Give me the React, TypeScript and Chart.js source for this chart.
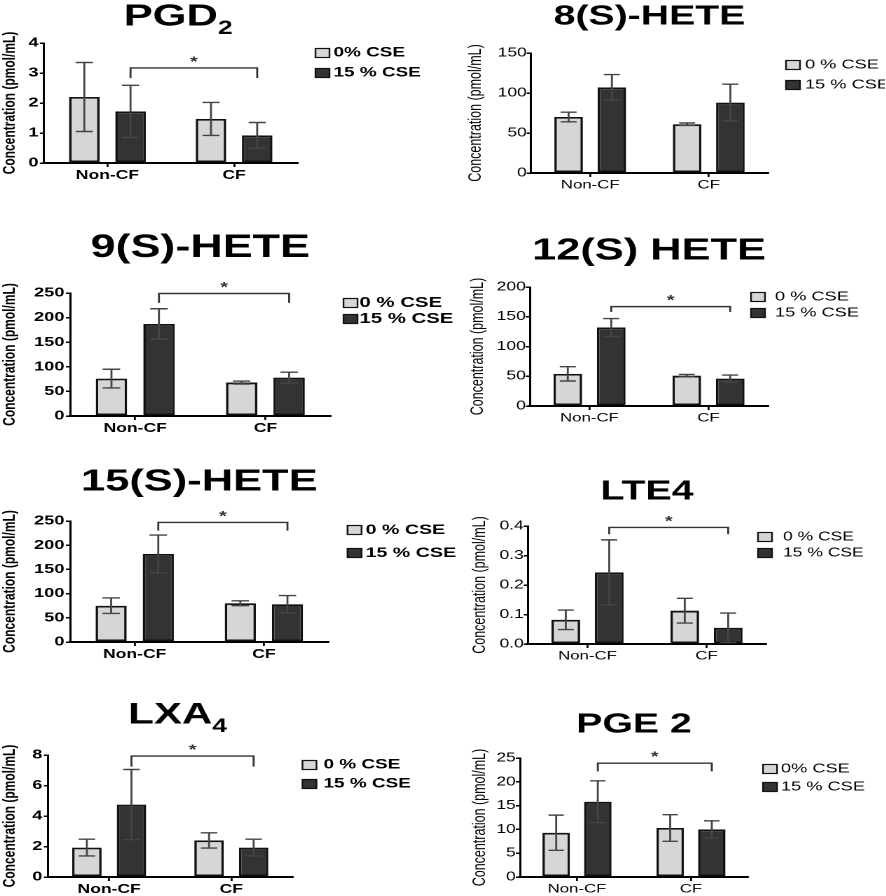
import React, { useEffect, useRef } from "react";
import { Chart, registerables } from "chart.js";

Chart.register(...registerables);

const FONT = "'Liberation Sans', Arial, Helvetica, sans-serif";
const SX = 1.4; // horizontal stretch of the original figure
const XAXIS_H = 24;

// ---------------- data ----------------
const categories = ["Non-CF", "CF"];
const yAxisTitle = "Concentration (pmol/mL)";

const pgd2Mean0 = [2.2, 1.47];
const pgd2Err0 = [1.15, 0.55];
const pgd2Mean15 = [1.72, 0.92];
const pgd2Err15 = [0.87, 0.43];
const pgd2Ticks = [0, 1, 2, 3, 4];
const pgd2Bracket = [3.17, 2.83];
const pgd2Legend = ["0% CSE", "15 % CSE"];

const hete8Mean0 = [70, 61];
const hete8Err0 = [6, 1.5];
const hete8Mean15 = [107, 88];
const hete8Err15 = [16, 23];
const hete8Ticks = [0, 50, 100, 150];
const hete8Legend = ["0 % CSE", "15 % CSE"];

const hete9Mean0 = [76, 68];
const hete9Err0 = [19, 3];
const hete9Mean15 = [187, 78];
const hete9Err15 = [31, 11];
const hete9Ticks = [0, 50, 100, 150, 200, 250];
const hete9Bracket = [249, 230];
const hete9Legend = ["0 % CSE", "15 % CSE"];

const hete12Mean0 = [54, 51];
const hete12Err0 = [12, 2];
const hete12Mean15 = [132, 46];
const hete12Err15 = [15, 6];
const hete12Ticks = [0, 50, 100, 150, 200];
const hete12Bracket = [167, 158];
const hete12Legend = ["0 % CSE", "15 % CSE"];

const hete15Mean0 = [75, 80];
const hete15Err0 = [16, 5];
const hete15Mean15 = [182, 78];
const hete15Err15 = [39, 18];
const hete15Ticks = [0, 50, 100, 150, 200, 250];
const hete15Bracket = [247, 230];
const hete15Legend = ["0 % CSE", "15 % CSE"];

const lte4Mean0 = [0.082, 0.113];
const lte4Err0 = [0.033, 0.042];
const lte4Mean15 = [0.243, 0.055];
const lte4Err15 = [0.11, 0.05];
const lte4Ticks = [0, 0.1, 0.2, 0.3, 0.4];
const lte4Bracket = [0.395, 0.372];
const lte4Legend = ["0 % CSE", "15 % CSE"];

const lxa4Mean0 = [1.93, 2.4];
const lxa4Err0 = [0.55, 0.5];
const lxa4Mean15 = [4.75, 1.93];
const lxa4Err15 = [2.3, 0.55];
const lxa4Ticks = [0, 2, 4, 6, 8];
const lxa4Bracket = [7.93, 7.24];
const lxa4Legend = ["0 % CSE", "15 % CSE"];

const pge2Mean0 = [9.3, 10.3];
const pge2Err0 = [3.7, 2.8];
const pge2Mean15 = [15.8, 10];
const pge2Err15 = [4.4, 1.8];
const pge2Ticks = [0, 5, 10, 15, 20, 25];
const pge2Bracket = [23.9, 22.2];
const pge2Legend = ["0% CSE", "15 % CSE"];

// ---------------- panels (data refs + layout) ----------------
type Box = {
  x0: number; w: number;
  plotLeft: number; plotRight: number; plotTop: number; plotBottom: number;
  titleCY: number; yTitleCX: number;
  legX: number; legTextX: number; legY: number; legDy: number;
};
type Spec = {
  title: string; sub: string; titleSize: number; bold: boolean;
  mean0: number[]; err0: number[]; mean15: number[]; err15: number[];
  ticks: number[]; decimals: number;
  bracket: number[] | null; legend: string[];
  legendFont: number; tickFont: number; xFont: number; yTitleFont: number;
  box: Box;
};

const panels: Spec[] = [
  {
    title: "PGD", sub: "2", titleSize: 31, bold: true,
    mean0: pgd2Mean0, err0: pgd2Err0, mean15: pgd2Mean15, err15: pgd2Err15,
    ticks: pgd2Ticks, decimals: 0, bracket: pgd2Bracket, legend: pgd2Legend,
    legendFont: 13.5, tickFont: 13, xFont: 12.5, yTitleFont: 12,
    box: { x0: 0, w: 470, plotLeft: 44, plotRight: 297, plotTop: 43, plotBottom: 163, titleCY: 17, yTitleCX: 8, legX: 315, legTextX: 333, legY: 53, legDy: 20 },
  },
  {
    title: "8(S)-HETE", sub: "", titleSize: 28, bold: false,
    mean0: hete8Mean0, err0: hete8Err0, mean15: hete8Mean15, err15: hete8Err15,
    ticks: hete8Ticks, decimals: 0, bracket: null, legend: hete8Legend,
    legendFont: 13, tickFont: 12.5, xFont: 12, yTitleFont: 12.5,
    box: { x0: 443, w: 443, plotLeft: 531, plotRight: 768, plotTop: 53, plotBottom: 173, titleCY: 17, yTitleCX: 476, legX: 786, legTextX: 805, legY: 65, legDy: 20 },
  },
  {
    title: "9(S)-HETE", sub: "", titleSize: 32, bold: true,
    mean0: hete9Mean0, err0: hete9Err0, mean15: hete9Mean15, err15: hete9Err15,
    ticks: hete9Ticks, decimals: 0, bracket: hete9Bracket, legend: hete9Legend,
    legendFont: 14.5, tickFont: 13, xFont: 12.5, yTitleFont: 12,
    box: { x0: 0, w: 470, plotLeft: 70, plotRight: 330, plotTop: 293, plotBottom: 416, titleCY: 248, yTitleCX: 8, legX: 343, legTextX: 359, legY: 303, legDy: 16 },
  },
  {
    title: "12(S) HETE", sub: "", titleSize: 31, bold: false,
    mean0: hete12Mean0, err0: hete12Err0, mean15: hete12Mean15, err15: hete12Err15,
    ticks: hete12Ticks, decimals: 0, bracket: hete12Bracket, legend: hete12Legend,
    legendFont: 13, tickFont: 12.5, xFont: 12, yTitleFont: 12.5,
    box: { x0: 443, w: 443, plotLeft: 530, plotRight: 768, plotTop: 287, plotBottom: 406, titleCY: 251, yTitleCX: 478, legX: 751, legTextX: 775, legY: 297, legDy: 16 },
  },
  {
    title: "15(S)-HETE", sub: "", titleSize: 31, bold: true,
    mean0: hete15Mean0, err0: hete15Err0, mean15: hete15Mean15, err15: hete15Err15,
    ticks: hete15Ticks, decimals: 0, bracket: hete15Bracket, legend: hete15Legend,
    legendFont: 14, tickFont: 13, xFont: 12.5, yTitleFont: 12,
    box: { x0: 0, w: 470, plotLeft: 70, plotRight: 328, plotTop: 521, plotBottom: 642, titleCY: 482, yTitleCX: 8, legX: 347, legTextX: 365, legY: 530, legDy: 23 },
  },
  {
    title: "LTE4", sub: "", titleSize: 28, bold: false,
    mean0: lte4Mean0, err0: lte4Err0, mean15: lte4Mean15, err15: lte4Err15,
    ticks: lte4Ticks, decimals: 1, bracket: lte4Bracket, legend: lte4Legend,
    legendFont: 12.5, tickFont: 12.5, xFont: 12, yTitleFont: 12.5,
    box: { x0: 443, w: 443, plotLeft: 528, plotRight: 766, plotTop: 526, plotBottom: 644, titleCY: 492, yTitleCX: 480, legX: 758, legTextX: 783, legY: 537, legDy: 16 },
  },
  {
    title: "LXA", sub: "4", titleSize: 30, bold: true,
    mean0: lxa4Mean0, err0: lxa4Err0, mean15: lxa4Mean15, err15: lxa4Err15,
    ticks: lxa4Ticks, decimals: 0, bracket: lxa4Bracket, legend: lxa4Legend,
    legendFont: 13.5, tickFont: 13, xFont: 12.5, yTitleFont: 12,
    box: { x0: 0, w: 470, plotLeft: 48, plotRight: 292, plotTop: 755, plotBottom: 877, titleCY: 715, yTitleCX: 8, legX: 302, legTextX: 323, legY: 765, legDy: 19 },
  },
  {
    title: "PGE 2", sub: "", titleSize: 28, bold: false,
    mean0: pge2Mean0, err0: pge2Err0, mean15: pge2Mean15, err15: pge2Err15,
    ticks: pge2Ticks, decimals: 0, bracket: pge2Bracket, legend: pge2Legend,
    legendFont: 13, tickFont: 12.5, xFont: 12, yTitleFont: 12.5,
    box: { x0: 443, w: 443, plotLeft: 520, plotRight: 748, plotTop: 758, plotBottom: 877, titleCY: 725, yTitleCX: 480, legX: 763, legTextX: 781, legY: 769, legDy: 18 },
  },
];

const LIGHT = "#d6d6d6";
const DARK = "#333333";
const EDGE = "#111111";

const annotPlugin = {
  id: "annot",
  afterDatasetsDraw(chart: any, _args: any, opts: any) {
    const ctx = chart.ctx;
    const y = chart.scales.y;
    ctx.save();
    ctx.strokeStyle = "#454545";
    ctx.lineWidth = 1.4;
    chart.data.datasets.forEach((ds: any, di: number) => {
      const meta = chart.getDatasetMeta(di);
      const errs = opts.errors[di];
      meta.data.forEach((el: any, j: number) => {
        const x = el.x;
        const hw = el.width * 0.28;
        const m = ds.data[j];
        const e = errs[j];
        const yT = y.getPixelForValue(m + e);
        const yB = y.getPixelForValue(Math.max(0, m - e));
        ctx.beginPath();
        ctx.moveTo(x, yB);
        ctx.lineTo(x, yT);
        ctx.moveTo(x - hw, yT);
        ctx.lineTo(x + hw, yT);
        ctx.moveTo(x - hw, yB);
        ctx.lineTo(x + hw, yB);
        ctx.stroke();
      });
    });
    ctx.restore();
  },
  afterDraw(chart: any, _args: any, opts: any) {
    const ctx = chart.ctx;
    const y = chart.scales.y;
    ctx.save();
    // subscript of the title
    if (opts.sub && opts.sub.text) {
      const t = chart.titleBlock;
      const F = opts.sub.size;
      ctx.font = `bold ${F}px ${FONT}`;
      const w = ctx.measureText(chart.options.plugins.title.text).width;
      const cx = (t.left + t.right) / 2;
      const mid = t.top + opts.sub.pt + 0.6 * F;
      ctx.font = `bold ${Math.round(0.62 * F)}px ${FONT}`;
      ctx.fillStyle = "#000";
      ctx.textAlign = "left";
      ctx.textBaseline = "alphabetic";
      ctx.fillText(opts.sub.text, cx + w / 2, mid + 0.36 * F + 6);
    }
    // significance bracket
    if (opts.bracket) {
      const m1 = chart.getDatasetMeta(1);
      const xa = m1.data[0].x;
      const xb = m1.data[1].x;
      const yt = y.getPixelForValue(opts.bracket[0]);
      const yl = y.getPixelForValue(opts.bracket[1]);
      ctx.strokeStyle = "#333";
      ctx.lineWidth = 1.4;
      ctx.beginPath();
      ctx.moveTo(xa, yl);
      ctx.lineTo(xa, yt);
      ctx.lineTo(xb, yt);
      ctx.lineTo(xb, yl);
      ctx.stroke();
      ctx.fillStyle = "#333";
      ctx.font = `bold 14px ${FONT}`;
      ctx.textAlign = "center";
      ctx.textBaseline = "alphabetic";
      ctx.fillText("*", (xa + xb) / 2, yt - 2);
    }
    // legend
    const L = opts.legend;
    chart.data.datasets.forEach((ds: any, i: number) => {
      const bx = (L.legX - L.x0) / SX;
      const cy = L.legY + i * L.legDy - L.y0;
      const bw = 14 / SX;
      const bh = 9;
      ctx.fillStyle = ds.backgroundColor;
      ctx.fillRect(bx, cy - bh / 2, bw, bh);
      ctx.strokeStyle = EDGE;
      ctx.lineWidth = 1.2;
      ctx.strokeRect(bx, cy - bh / 2, bw, bh);
      ctx.fillStyle = "#000";
      ctx.font = `${L.bold ? "bold " : ""}${L.font}px ${FONT}`;
      ctx.textAlign = "left";
      ctx.textBaseline = "middle";
      ctx.fillText(ds.label, (L.legTextX - L.x0) / SX, cy);
    });
    ctx.restore();
  },
};

function Panel({ spec }: { spec: Spec }) {
  const ref = useRef<HTMLCanvasElement | null>(null);
  const b = spec.box;
  const F = spec.titleSize;
  const y0 = Math.floor(b.titleCY - 0.6 * F - 2);
  const cw = b.w / SX;
  const ch = b.plotBottom - y0 + XAXIS_H;
  const pt = b.titleCY - y0 - 0.6 * F;
  const pb = b.plotTop - y0 - pt - 1.2 * F;
  const yTitleLH = 1.2 * spec.yTitleFont;
  const pl = Math.max(0, (b.yTitleCX - b.x0) / SX - yTitleLH / 2);
  const yAxisW = (b.plotLeft - b.x0) / SX - pl;
  const pr = (b.x0 + b.w - b.plotRight) / SX;

  useEffect(() => {
    if (!ref.current) return;
    const weight = spec.bold ? "bold" : "normal";
    const ticks = spec.ticks;
    const chart = new Chart(ref.current, {
      type: "bar",
      data: {
        labels: categories,
        datasets: [
          {
            label: spec.legend[0], data: spec.mean0, backgroundColor: LIGHT, borderColor: EDGE,
            borderWidth: 1.8, borderSkipped: false, categoryPercentage: 0.73, barPercentage: 0.66,
          },
          {
            label: spec.legend[1], data: spec.mean15, backgroundColor: DARK, borderColor: EDGE,
            borderWidth: 1.8, borderSkipped: false, categoryPercentage: 0.73, barPercentage: 0.66,
          },
        ],
      },
      options: {
        animation: false,
        responsive: true,
        maintainAspectRatio: false,
        devicePixelRatio: 2,
        layout: { padding: { left: pl, right: pr, top: 0, bottom: 0 } },
        plugins: {
          legend: { display: false },
          tooltip: { enabled: false },
          title: {
            display: true, text: spec.title, fullSize: false, color: "#000",
            font: { family: FONT, size: F, weight: "bold", lineHeight: 1.2 },
            padding: { top: pt, bottom: pb },
          },
          annot: {
            errors: [spec.err0, spec.err15],
            bracket: spec.bracket,
            sub: { text: spec.sub, size: F, pt },
            legend: { x0: b.x0, y0, legX: b.legX, legTextX: b.legTextX, legY: b.legY, legDy: b.legDy, font: spec.legendFont, bold: spec.bold },
          },
        } as any,
        scales: {
          x: {
            type: "category",
            offset: true,
            afterFit: (s: any) => { s.height = XAXIS_H; },
            grid: { display: true, drawOnChartArea: false, offset: false, tickLength: 4, color: "#000", lineWidth: 1.4 },
            border: { display: true, color: "#000", width: 2 },
            ticks: { color: "#000", padding: 1, maxRotation: 0, autoSkip: false, font: { family: FONT, size: spec.xFont, weight: weight } },
          },
          y: {
            type: "linear",
            min: ticks[0],
            max: ticks[ticks.length - 1],
            afterFit: (s: any) => { s.width = yAxisW; },
            grid: { display: true, drawOnChartArea: false, tickLength: 3, color: "#000", lineWidth: 1.5 },
            border: { display: true, color: "#000", width: 1.5 },
            ticks: {
              stepSize: ticks[1] - ticks[0],
              color: "#000",
              padding: spec.bold ? 1 : 0,
              font: { family: FONT, size: spec.tickFont, weight: weight },
              callback: (v: any) => Number(v).toFixed(spec.decimals),
            },
            title: {
              display: true, text: yAxisTitle, color: "#000", padding: 0,
              font: { family: FONT, size: spec.yTitleFont, weight: weight },
            },
          },
        },
      } as any,
      plugins: [annotPlugin],
    });
    return () => chart.destroy();
  }, []);

  return (
    <div
      style={{
        position: "absolute", left: b.x0, top: y0, width: cw, height: ch,
        transform: `scaleX(${SX})`, transformOrigin: "0 0",
      }}
    >
      <canvas ref={ref} />
    </div>
  );
}

export default function App() {
  return (
    <div style={{ position: "absolute", left: 0, top: 0, width: 886, height: 896, overflow: "hidden", background: "#fff" }}>
      {panels.map((p, i) => <Panel key={i} spec={p} />)}
    </div>
  );
}
